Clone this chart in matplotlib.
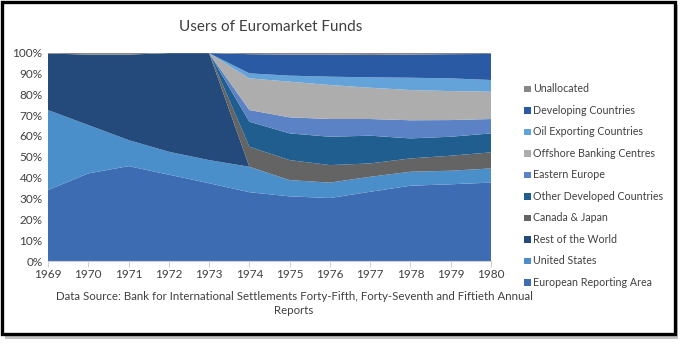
import matplotlib
matplotlib.use("Agg")
import matplotlib.pyplot as plt
from matplotlib.patches import Rectangle
import numpy as np

plt.rcParams['font.family'] = ['Lato', 'DejaVu Sans']

years = [1969, 1970, 1971, 1972, 1973, 1974, 1975, 1976, 1977, 1978, 1979, 1980]

european_reporting_area = [34.0, 42.0, 45.5, 41.4, 37.3, 33.0, 31.0, 30.2, 33.2, 36.1, 36.8, 37.6]
united_states           = [38.4, 23.2, 12.5, 11.0, 11.1, 12.2, 7.8, 7.4, 7.2, 6.7, 6.5, 6.8]
rest_of_world           = [27.1, 33.8, 41.0, 47.3, 51.3, 0, 0, 0, 0, 0, 0, 0]
canada_japan            = [0, 0, 0, 0, 0, 9.6, 9.6, 8.4, 6.4, 6.4, 7.2, 7.7]
other_developed         = [0, 0, 0, 0, 0, 12.0, 12.8, 13.6, 13.3, 9.6, 9.1, 9.1]
eastern_europe          = [0, 0, 0, 0, 0, 5.6, 7.7, 8.5, 8.0, 8.7, 8.0, 6.9]
offshore_banking        = [0, 0, 0, 0, 0, 15.2, 17.1, 16.3, 15.0, 14.5, 13.9, 13.1]
oil_exporting           = [0, 0, 0, 0, 0, 2.4, 2.9, 4.0, 5.0, 5.9, 6.1, 5.6]
developing              = [0, 0, 0, 0, 0, 9.2, 10.1, 10.6, 10.7, 11.1, 11.6, 12.5]
unallocated             = [0.5, 1.0, 1.0, 0.3, 0.3, 0.8, 1.0, 1.0, 1.2, 1.0, 0.8, 0.7]

series_names = ["European Reporting Area", "United States", "Rest of the World",
                "Canada & Japan", "Other Developed Countries", "Eastern Europe",
                "Offshore Banking Centres", "Oil Exporting Countries",
                "Developing Countries", "Unallocated"]
series = [european_reporting_area, united_states, rest_of_world, canada_japan,
          other_developed, eastern_europe, offshore_banking, oil_exporting,
          developing, unallocated]
colors = ["#3D6CB3", "#4B8FCA", "#234A7B", "#646464", "#1F5E8E",
          "#5B82C5", "#ADADAD", "#64A3D9", "#2A5AA3", "#888888"]

data = np.array(series, dtype=float)
data = data / data.sum(axis=0) * 100.0

W, H = 685, 345
fig = plt.figure(figsize=(W / 100, H / 100), dpi=100)

# frame with shadow
shadow = Rectangle((5 / W, 1 - 339 / H), 673 / W, 334 / H, transform=fig.transFigure,
                   facecolor="#9a9a9a", edgecolor="none", zorder=0, alpha=0.6)
fig.patches.append(shadow)
frame = Rectangle((2 / W, 1 - 334 / H), 673 / W, 332 / H, transform=fig.transFigure,
                  facecolor="white", edgecolor="black", linewidth=2.4, zorder=1)
fig.patches.append(frame)

ax = fig.add_axes([48 / W, 1 - 261 / H, (491 - 48) / W, (261 - 52.5) / H])
ax.set_zorder(2)
ax.stackplot(years, data, colors=colors, linewidth=0)
ax.set_xlim(1969, 1980)
ax.set_ylim(0, 100)
ax.set_xticks(years)
ax.set_xticklabels([str(y) for y in years], fontsize=8.5, color="#404040")
ax.set_yticks(range(0, 101, 10))
ax.set_yticklabels([f"{v}%" for v in range(0, 101, 10)], fontsize=8.5, color="#404040")
for s in ["top", "right", "left"]:
    ax.spines[s].set_visible(False)
ax.spines["bottom"].set_color("#d0d0d0")
ax.tick_params(axis="y", length=0, pad=4)
ax.tick_params(axis="x", length=4, color="#d0d0d0", direction="out", pad=2)
ax.patch.set_alpha(0)

fig.text(271 / W, 1 - 27 / H, "Users of Euromarket Funds", ha="center", va="center",
         fontsize=11, color="#404040")
fig.text(294 / W, 1 - 303.5 / H,
         "Data Source: Bank for International Settlements Forty-Fifth, Forty-Seventh and Fiftieth Annual\nReports",
         ha="center", va="center", fontsize=8.3, color="#404040", linespacing=1.3)

# legend (reversed order)
for i, (name, col) in enumerate(zip(series_names[::-1], colors[::-1])):
    yc = 89 + i * 21.48
    fig.patches.append(Rectangle((524 / W, 1 - (yc + 3.3) / H), 6.6 / W, 6.6 / H,
                                 transform=fig.transFigure, facecolor=col,
                                 edgecolor="none", zorder=3))
    fig.text(533 / W, 1 - yc / H, name, ha="left", va="center", fontsize=7.7,
             color="#404040")

fig.savefig("out.png", dpi=100)
